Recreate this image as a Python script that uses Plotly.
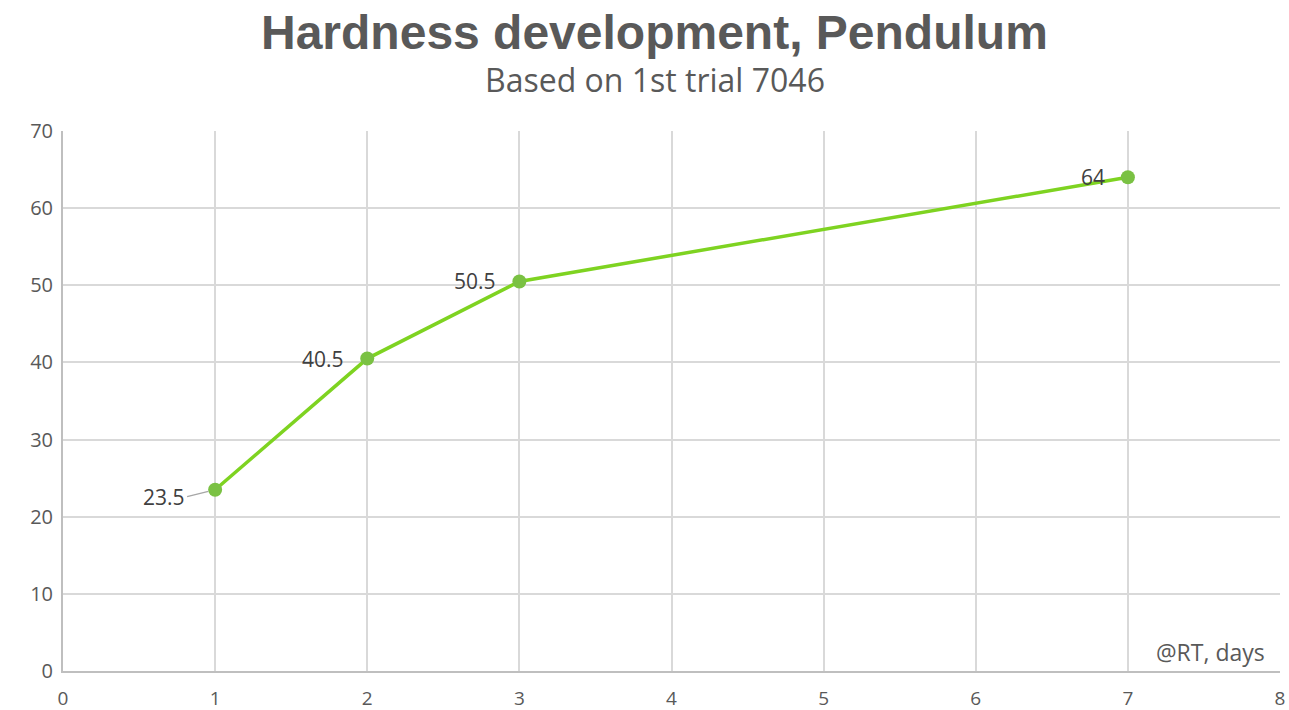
import plotly.graph_objects as go

days = [1, 2, 3, 7]
hardness = [23.5, 40.5, 50.5, 64]
label_text = ["23.5", "40.5", "50.5", "64"]
x_ticks = [0, 1, 2, 3, 4, 5, 6, 7, 8]
y_ticks = [0, 10, 20, 30, 40, 50, 60, 70]

FONT = "Open Sans, Noto Sans, sans-serif"

fig = go.Figure()
fig.add_trace(go.Scatter(
    x=days, y=hardness, mode="lines+markers",
    line=dict(color="#7ED321", width=3.5),
    marker=dict(color="#7AC143", size=14),
    hoverinfo="x+y", showlegend=False,
))

label_font = dict(family=FONT, size=21, color="#404040")
for i, (xv, yv, t) in enumerate(zip(days, hardness, label_text)):
    if i == 0:
        fig.add_annotation(x=xv, y=yv, text=t, showarrow=True, arrowhead=0,
                           arrowwidth=1.3, arrowcolor="#A6A6A6", ax=-28, ay=7,
                           standoff=7, font=label_font, xanchor="right", yanchor="middle")
    else:
        fig.add_annotation(x=xv, y=yv, text=t, showarrow=False,
                           xshift=-21, yshift=0, font=label_font,
                           xanchor="right", yanchor="middle")

fig.add_annotation(x=8, yref="paper", y=0, xshift=-13, yshift=1, text="@RT, days",
                   showarrow=False, xanchor="right", yanchor="bottom",
                   font=dict(family=FONT, size=23, color="#595959"))

fig.add_annotation(xref="paper", yref="paper", x=0.4864, y=1, yshift=127,
                   text="<b>Hardness development, Pendulum</b>", showarrow=False,
                   xanchor="center", yanchor="top",
                   font=dict(family="Liberation Sans, Arial, sans-serif", size=48, color="#595959"))
fig.add_annotation(xref="paper", yref="paper", x=0.4864, y=1, yshift=75,
                   text="Based on 1st trial 7046", showarrow=False,
                   xanchor="center", yanchor="top",
                   font=dict(family=FONT, size=32, color="#595959"))

fig.update_layout(
    width=1289, height=710,
    margin=dict(l=63, r=9, t=131, b=39),
    plot_bgcolor="white", paper_bgcolor="white",
    xaxis=dict(range=[0, 8], tickvals=x_ticks, showgrid=True, gridcolor="#D9D9D9",
               gridwidth=1.5, zeroline=False, showline=True, linecolor="#BFBFBF", linewidth=1.5,
               tickfont=dict(family=FONT, size=19, color="#595959"), automargin=False,
               ticks="outside", ticklen=9, tickcolor="rgba(0,0,0,0)", fixedrange=True),
    yaxis=dict(range=[0, 70], tickvals=y_ticks, showgrid=True, gridcolor="#D9D9D9",
               gridwidth=1.5, zeroline=False, showline=True, linecolor="#BFBFBF", linewidth=2,
               tickfont=dict(family=FONT, size=20, color="#595959"), automargin=False,
               ticks="outside", ticklen=4, tickcolor="rgba(0,0,0,0)", fixedrange=True),
)
fig.write_html("out.html", config={"displayModeBar": False},
               post_script="document.body.style.margin='0';document.body.style.overflow='hidden';")
